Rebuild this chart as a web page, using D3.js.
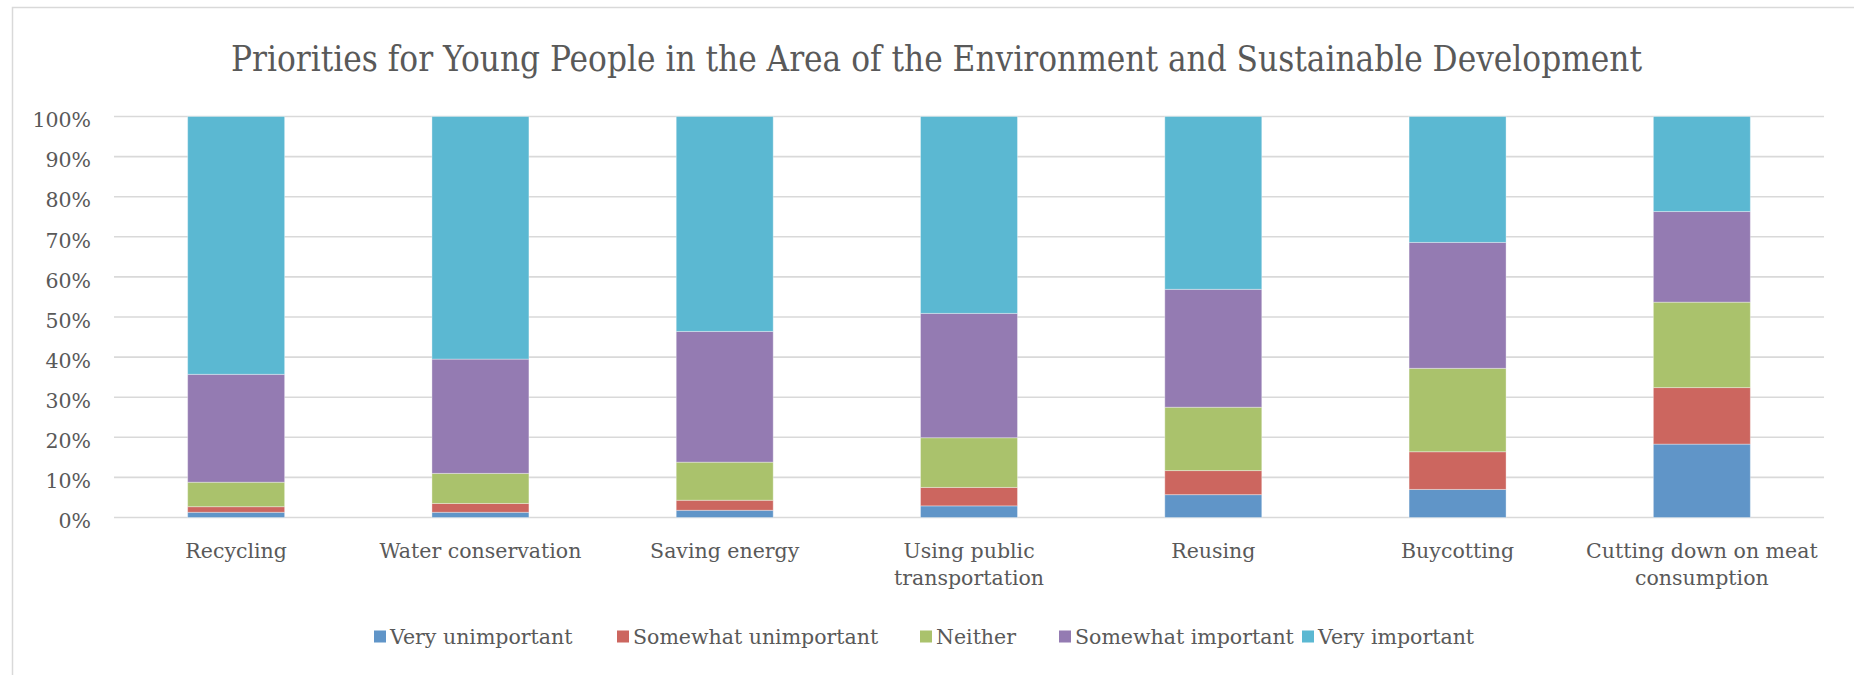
<!DOCTYPE html>
<html>
<head>
<meta charset="utf-8">
<script src="https://cdn.jsdelivr.net/npm/d3@7/dist/d3.min.js"></script>
<style>
  html, body { margin: 0; padding: 0; background: #ffffff; }
  svg { display: block; }
  text { font-family: "DejaVu Serif", "Liberation Serif", serif; fill: #595959; }
</style>
</head>
<body>
<svg id="chart" width="1854" height="675"></svg>
<script>
// ---- data ----
const title = "Priorities for Young People in the Area of the Environment and Sustainable Development";
const categories = [
  ["Recycling"],
  ["Water conservation"],
  ["Saving energy"],
  ["Using public", "transportation"],
  ["Reusing"],
  ["Buycotting"],
  ["Cutting down on meat", "consumption"]
];
const seriesNames = ["Very unimportant", "Somewhat unimportant", "Neither", "Somewhat important", "Very important"];
const seriesColors = ["#6095c8", "#cc665f", "#aac26c", "#947bb2", "#5bb8d2"];
const veryUnimportant     = [1.3, 1.3, 1.8, 2.9, 5.7, 7.0, 18.3];
const somewhatUnimportant = [1.4, 2.2, 2.5, 4.6, 6.0, 9.4, 14.1];
const neither             = [6.1, 7.5, 9.5, 12.4, 15.8, 20.8, 21.3];
const somewhatImportant   = [26.9, 28.5, 32.6, 31.0, 29.4, 31.4, 22.6];
const veryImportant       = [64.3, 60.5, 53.6, 49.1, 43.1, 31.4, 23.7];
const yTicks = [0, 10, 20, 30, 40, 50, 60, 70, 80, 90, 100];

// ---- build table ----
const keys = seriesNames;
const allSeries = [veryUnimportant, somewhatUnimportant, neither, somewhatImportant, veryImportant];
const catKeys = categories.map(c => c.join(" "));
const table = catKeys.map((c, i) => {
  const row = { cat: c };
  keys.forEach((k, j) => row[k] = allSeries[j][i]);
  return row;
});
// normalize to 100%
table.forEach(r => {
  const tot = d3.sum(keys, k => r[k]);
  keys.forEach(k => r[k] = r[k] / tot * 100);
});

const svg = d3.select("#chart");
const W = 1854, H = 675;
const plot = { left: 114, right: 1824, top: 116.5, bottom: 517.5 };

// frame
svg.append("rect")
  .attr("x", 12.5).attr("y", 7.5)
  .attr("width", W + 20).attr("height", H + 20)
  .attr("fill", "#ffffff").attr("stroke", "#d9d9d9").attr("stroke-width", 1.5);

// title
svg.append("text")
  .attr("x", 936.5).attr("y", 71)
  .attr("text-anchor", "middle")
  .attr("font-size", 35)
  .attr("textLength", 1411)
  .attr("lengthAdjust", "spacingAndGlyphs")
  .text(title);

const x = d3.scaleBand().domain(catKeys).range([plot.left, plot.right])
  .paddingInner(0.603).paddingOuter(0.3015);
const y = d3.scaleLinear().domain([0, 100]).range([plot.bottom, plot.top]);

// gridlines
svg.append("g")
  .selectAll("line")
  .data(yTicks)
  .join("line")
  .attr("x1", plot.left).attr("x2", plot.right)
  .attr("y1", d => y(d)).attr("y2", d => y(d))
  .attr("stroke", "#d9d9d9").attr("stroke-width", 1.6);

// y axis labels
const yAxis = d3.axisLeft(y).tickValues(yTicks).tickFormat(d => d + "%").tickSize(0).tickPadding(0);
const yg = svg.append("g").attr("transform", `translate(91,0)`).call(yAxis);
yg.select(".domain").remove();
yg.selectAll("text")
  .attr("font-size", 20.5)
  .attr("font-family", "DejaVu Serif")
  .attr("fill", "#595959")
  .attr("dy", "0.5em");

// stacked bars
const stack = d3.stack().keys(keys)(table);
svg.append("g")
  .selectAll("g")
  .data(stack)
  .join("g")
  .attr("fill", (d, i) => seriesColors[i])
  .selectAll("rect")
  .data(d => d)
  .join("rect")
  .attr("x", d => x(d.data.cat))
  .attr("width", x.bandwidth())
  .attr("y", d => y(d[1]))
  .attr("height", d => y(d[0]) - y(d[1]))
  .attr("stroke", "#ffffff").attr("stroke-opacity", 0.35).attr("stroke-width", 1);

// x axis labels
const xAxis = d3.axisBottom(x).tickSize(0).tickFormat(() => "");
const xg = svg.append("g").attr("transform", `translate(0,${plot.bottom})`).call(xAxis);
xg.select(".domain").remove();
xg.selectAll(".tick").each(function(d, i) {
  const t = d3.select(this).append("text")
    .attr("text-anchor", "middle")
    .attr("font-size", 20.5)
    .attr("fill", "#595959")
    .attr("font-family", "DejaVu Serif");
  categories[i].forEach((line, li) => {
    t.append("tspan").attr("x", 0).attr("y", 40 + li * 27).text(line);
  });
});

// legend
const legendX = [374, 617, 920, 1059, 1302];
const lg = svg.append("g").selectAll("g").data(seriesNames).join("g")
  .attr("transform", (d, i) => `translate(${legendX[i]},637)`);
lg.append("rect").attr("x", 0).attr("y", -6.5).attr("width", 12).attr("height", 12)
  .attr("fill", (d, i) => seriesColors[i]);
lg.append("text").attr("x", 16).attr("y", 7).attr("font-size", 20.5).text(d => d);
</script>
</body>
</html>
